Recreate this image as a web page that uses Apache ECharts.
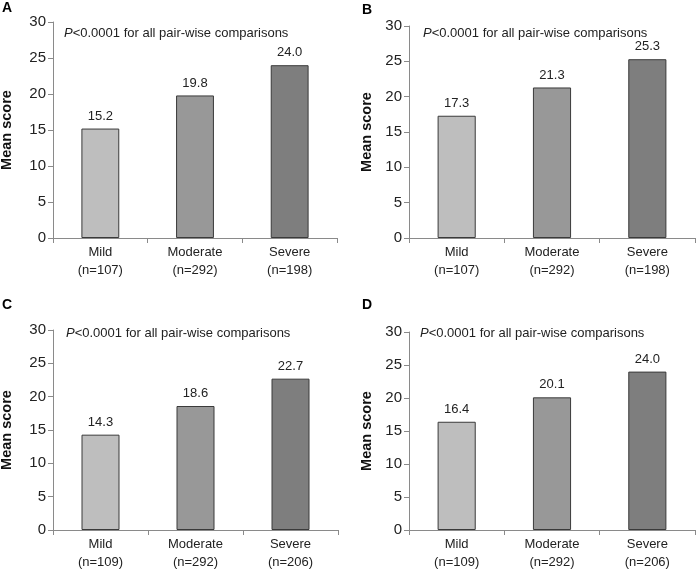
<!DOCTYPE html>
<html>
<head>
<meta charset="utf-8">
<script src="https://cdn.jsdelivr.net/npm/echarts@6/dist/echarts.min.js"></script>
<style>
html,body{margin:0;padding:0;background:#fff;}
#main{width:697px;height:572px;}
</style>
</head>
<body>
<div id="main"></div>
<script>
// ---- data ----
var categories = ['Mild', 'Moderate', 'Severe'];
var countsAB = ['(n=107)', '(n=292)', '(n=198)'];
var countsCD = ['(n=109)', '(n=292)', '(n=206)'];
var valuesA = [15.2, 19.8, 24.0];
var valuesB = [17.3, 21.3, 25.3];
var valuesC = [14.3, 18.6, 22.7];
var valuesD = [16.4, 20.1, 24.0];
var panelLetters = ['A', 'B', 'C', 'D'];
var yMin = 0, yMax = 30, yStep = 5;
var pNote = 'P';
var pNoteRest = '<0.0001 for all pair-wise comparisons';
var yAxisTitle = 'Mean score';

// ---- layout / style ----
var FONT = '"Liberation Sans", Arial, sans-serif';
var barColors = ['#bebebe', '#989898', '#7e7e7e'];
var grids = [
  {left: 53, top: 22, width: 284, height: 216},
  {left: 409, top: 26, width: 286, height: 212},
  {left: 53, top: 330, width: 285, height: 200},
  {left: 409, top: 332, width: 286, height: 198}
];
var nameGaps = [39, 35, 39, 35];
var letterPos = [[2, 1], [362, 3], [2, 298], [362, 298]];
var notePos = [[64, 27], [423, 27], [66, 327], [420, 327]];
var panels = [
  {values: valuesA, counts: countsAB},
  {values: valuesB, counts: countsAB},
  {values: valuesC, counts: countsCD},
  {values: valuesD, counts: countsCD}
];

var option = {
  animation: false,
  backgroundColor: '#ffffff',
  textStyle: {fontFamily: FONT},
  grid: [], xAxis: [], yAxis: [], series: [], title: []
};

panels.forEach(function (p, i) {
  option.grid.push(Object.assign({containLabel: false, outerBoundsMode: 'none'}, grids[i]));
  option.xAxis.push({
    type: 'category',
    gridIndex: i,
    data: categories.map(function (c, k) { return c + '\n' + p.counts[k]; }),
    axisLine: {lineStyle: {color: '#8a8a8a', width: 1}},
    axisTick: {show: true, length: 5, inside: false, lineStyle: {color: '#8a8a8a'}},
    axisLabel: {color: '#222', fontSize: 13, fontFamily: FONT, lineHeight: 18, margin: 5, interval: 0},
    splitLine: {show: false}
  });
  option.yAxis.push({
    type: 'value',
    gridIndex: i,
    min: yMin, max: yMax, interval: yStep,
    name: yAxisTitle,
    nameLocation: 'middle',
    nameGap: nameGaps[i],
    nameTextStyle: {fontSize: 14.5, fontWeight: 'bold', color: '#111', fontFamily: FONT},
    axisLine: {show: true, lineStyle: {color: '#8a8a8a', width: 1}},
    axisTick: {show: true, length: 5, lineStyle: {color: '#8a8a8a'}},
    axisLabel: {color: '#222', fontSize: 15, fontFamily: FONT, margin: 7},
    splitLine: {show: false}
  });
  option.series.push({
    type: 'bar',
    xAxisIndex: i,
    yAxisIndex: i,
    barWidth: '40%',
    data: p.values.map(function (v, k) {
      return {value: v, itemStyle: {color: barColors[k]}};
    }),
    itemStyle: {borderColor: '#3a3a3a', borderWidth: 1},
    label: {
      show: true, position: 'top', distance: 6,
      fontSize: 13, color: '#222', fontFamily: FONT,
      formatter: function (d) { return d.value.toFixed(1); }
    }
  });
  option.title.push({
    text: panelLetters[i],
    left: letterPos[i][0], top: letterPos[i][1],
    padding: 0,
    textStyle: {fontSize: 14, fontWeight: 'bold', color: '#000', fontFamily: FONT}
  });
  option.title.push({
    text: '{i|' + pNote + '}{n|' + pNoteRest + '}',
    left: notePos[i][0], top: notePos[i][1],
    padding: 0,
    textStyle: {
      fontSize: 13, fontWeight: 'normal', color: '#222', fontFamily: FONT,
      rich: {
        i: {fontStyle: 'italic', fontWeight: 'normal', fontSize: 13, color: '#222', fontFamily: FONT},
        n: {fontWeight: 'normal', fontSize: 13, color: '#222', fontFamily: FONT}
      }
    }
  });
});

var chart = echarts.init(document.getElementById('main'), null, {renderer: 'canvas'});
chart.setOption(option);
</script>
</body>
</html>
